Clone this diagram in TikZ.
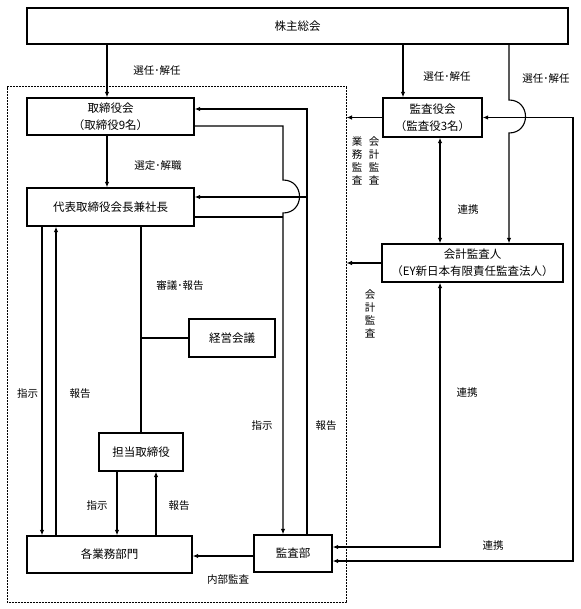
\documentclass[tikz,border=0pt]{standalone}
\usepackage{fontspec}
\newfontfamily\jp{Noto Sans CJK JP}
\usetikzlibrary{arrows.meta,calc}
\begin{document}
\begin{tikzpicture}[x=1pt,y=-1pt,
  box/.style={draw,line width=1.3pt,inner sep=0pt,align=center,font=\jp\fontsize{11.5}{17}\selectfont},
  lbl/.style={font=\jp\fontsize{10.5}{12.7}\selectfont,inner sep=0pt,align=center,text height=9.2pt,text depth=1.3pt},
  ln/.style={line width=1.1pt},
  arr/.style={ln,-{Latex[length=5.5pt,width=4.5pt]}},
  darr/.style={ln,{Latex[length=5.5pt,width=4.5pt]}-{Latex[length=5.5pt,width=4.5pt]}},
  innerbox/.style={draw,line width=1pt,dash pattern=on 0.8pt off 0.7pt,inner sep=0pt}]
\useasboundingbox (0,0) rectangle (580,609);

% dotted frame
\node[innerbox,minimum width=339pt,minimum height=515pt] (inner) at (176.5,344.5) {};

% boxes
\node[box,minimum width=541pt,minimum height=36pt] (soukai) at (297.5,26) {株主総会};
\node[box,minimum width=167pt,minimum height=37pt] (tori) at (110.5,116.5) {取締役会\\（取締役9名）};
\node[box,minimum width=167pt,minimum height=38pt] (daihyo) at (110.5,207) {代表取締役会長兼社長};
\node[box,minimum width=86pt,minimum height=38pt] (keiei) at (232,338) {経営会議};
\node[box,minimum width=84pt,minimum height=38pt] (tanto) at (141,452) {担当取締役};
\node[box,minimum width=165pt,minimum height=37pt] (kakugyomu) at (109.5,554.5) {各業務部門};
\node[box,minimum width=78pt,minimum height=37pt] (kansabu) at (293,553.5) {監査部};
\node[box,minimum width=99pt,minimum height=39pt] (kyaku) at (432.5,117.5) {監査役会\\（監査役3名）};
\node[box,minimum width=181pt,minimum height=38pt] (kaikei) at (472.5,263) {会計監査人\\（EY新日本有限責任監査法人）};

% top connectors
\draw[arr] (107,0 |- soukai.south) -- (107,0 |- tori.north);
\draw[arr] (107,0 |- tori.south) -- (107,0 |- daihyo.north);
\draw[arr] (403,0 |- soukai.south) -- (403,0 |- kyaku.north);
\draw[arr] (509,0 |- soukai.south) -- (509,100) .. controls (531,100) and (531,133) .. (509,133) -- (509,0 |- kaikei.north);

% right loop
\draw[darr] (kansabu.east |- 0,561) -- (573,561) -- (573,0 |- kyaku.east) -- (kyaku.east);

% to dotted frame
\draw[arr] (kyaku.west) -- (kyaku.west -| inner.east);
\draw[arr] (kaikei.west) -- (kaikei.west -| inner.east);

% 監査役会 <-> 会計監査人 <-> 監査部
\draw[darr] (440,0 |- kyaku.south) -- (440,0 |- kaikei.north);
\draw[darr] (440,0 |- kaikei.south) -- (440,547) -- (kansabu.east |- 0,547);

% 内部監査
\draw[arr] (kansabu.west |- 0,556) -- (kakugyomu.east |- 0,556);

% 監査部 report line
\draw[arr] (307,0 |- kansabu.north) -- (307,109) -- (tori.east |- 0,109);
\draw[arr] (307,197) -- (daihyo.east |- 0,197);

% 指示 line to 監査部
\draw[arr] (tori.east |- 0,126) -- (283,126) -- (283,180) .. controls (305,180) and (305,213) .. (283,213) -- (283,0 |- kansabu.north);
\draw[ln] (daihyo.east |- 0,217) -- (283,217);

% left side
\draw[arr] (42,0 |- daihyo.south) -- (42,0 |- kakugyomu.north);
\draw[arr] (56,0 |- kakugyomu.north) -- (56,0 |- daihyo.south);
\draw[ln] (141,0 |- daihyo.south) -- (tanto.north);
\draw[ln] (141,0 |- keiei.west) -- (keiei.west);
\draw[arr] (117,0 |- tanto.south) -- (117,0 |- kakugyomu.north);
\draw[arr] (156,0 |- kakugyomu.north) -- (156,0 |- tanto.south);

% labels
\node[lbl] at (157,71) {選任･解任};
\node[lbl] at (447,77) {選任･解任};
\node[lbl] at (546,79) {選任･解任};
\node[lbl] at (158,166) {選定･解職};
\node[lbl] at (180,286) {審議･報告};
\node[lbl] at (27.5,394) {指示};
\node[lbl] at (80,394) {報告};
\node[lbl] at (97,506) {指示};
\node[lbl] at (179,506) {報告};
\node[lbl] at (262,426) {指示};
\node[lbl] at (326,426) {報告};
\node[lbl] at (228,580) {内部監査};
\node[lbl] at (468,210) {連携};
\node[lbl] at (467,393) {連携};
\node[lbl] at (493,546) {連携};
% vertical labels
\foreach \c [count=\i from 0] in {業,務,監,査}
  \node[lbl] (gyomu\i) at (357,142+12.7*\i) {\c};
\foreach \c [count=\i from 0] in {会,計,監,査}
  \node[lbl] (kaikeiA\i) at (374,142+12.7*\i) {\c};
\foreach \c [count=\i from 0] in {会,計,監,査}
  \node[lbl] (kaikeiB\i) at (370,295+12.7*\i) {\c};
\end{tikzpicture}
\end{document}
